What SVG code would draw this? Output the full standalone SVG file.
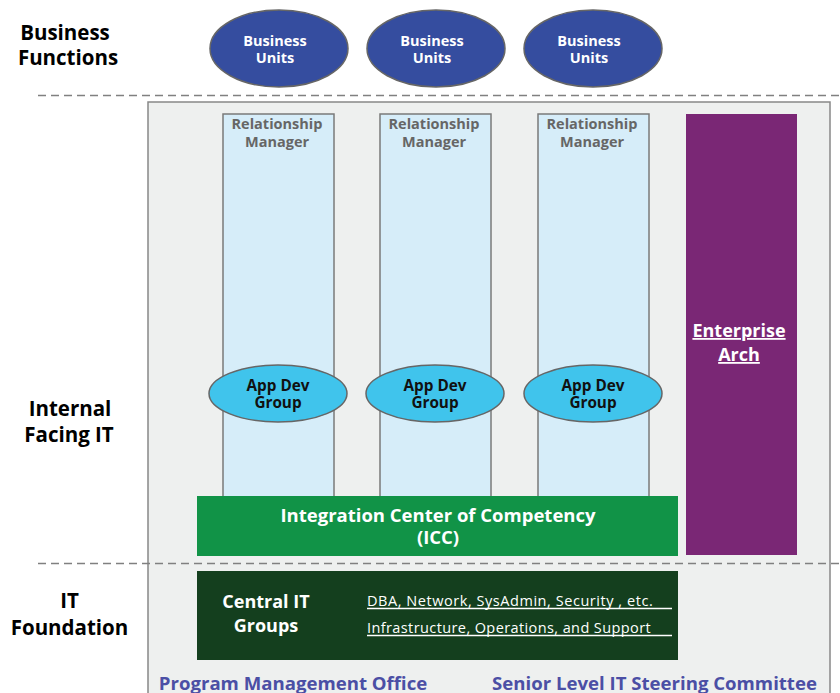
<svg xmlns="http://www.w3.org/2000/svg" width="840" height="693" viewBox="0 0 840 693">
<style>
text{font-family:"Open Sans","DejaVu Sans",sans-serif;font-weight:bold;text-anchor:middle}
.lbl{font-size:20.5px;fill:#000}
.bu{fill:#354d9f;stroke:#666;stroke-width:1.5}
.but{font-size:14.5px;fill:#fff}
.col{fill:#d6edf9;stroke:#7a7a7a;stroke-width:1.5}
.colt{font-size:14.5px;fill:#666}
.ad{fill:#40c4ec;stroke:#666;stroke-width:1.5}
.adt{font-size:15.3px;fill:#111}
.dash{stroke:#808080;stroke-width:1.5;stroke-dasharray:8 5;fill:none}
.wt{fill:#fff}
.bot{font-size:18.6px;fill:#4b4fa5}
.ul{stroke:#fff;stroke-width:1.5}
.sm{font-size:14.5px;font-weight:normal;text-anchor:start;fill:#fff}
</style>
<rect x="148" y="102" width="682" height="600" fill="#eef0ef" stroke="#888" stroke-width="1.5"/>
<g id="connectors">
<line class="dash" x1="38" y1="95.5" x2="840" y2="95.5"/>
<line class="dash" x1="38" y1="563.5" x2="840" y2="563.5"/>
</g>
<g id="label-business-functions"><text class="lbl" x="65" y="40">Business</text><text class="lbl" x="68" y="65">Functions</text></g>
<g id="label-internal-it"><text class="lbl" x="70" y="416">Internal</text><text class="lbl" x="69" y="442">Facing IT</text></g>
<g id="label-it-foundation"><text class="lbl" x="69.5" y="608">IT</text><text class="lbl" x="69.5" y="635">Foundation</text></g>
<g id="bu1"><ellipse class="bu" cx="279" cy="48.5" rx="69" ry="38.5"/><text class="but" x="275" y="46">Business</text><text class="but" x="275" y="63">Units</text></g>
<g id="bu2"><ellipse class="bu" cx="436" cy="48.5" rx="69" ry="38.5"/><text class="but" x="432" y="46">Business</text><text class="but" x="432" y="63">Units</text></g>
<g id="bu3"><ellipse class="bu" cx="593" cy="48.5" rx="69" ry="38.5"/><text class="but" x="589" y="46">Business</text><text class="but" x="589" y="63">Units</text></g>
<g id="rm1"><rect class="col" x="223" y="114" width="111" height="390"/><text class="colt" x="277" y="129">Relationship</text><text class="colt" x="277" y="147">Manager</text></g>
<g id="rm2"><rect class="col" x="380" y="114" width="111" height="390"/><text class="colt" x="434" y="129">Relationship</text><text class="colt" x="434" y="147">Manager</text></g>
<g id="rm3"><rect class="col" x="538" y="114" width="111" height="390"/><text class="colt" x="592" y="129">Relationship</text><text class="colt" x="592" y="147">Manager</text></g>
<g id="ad1"><ellipse class="ad" cx="278" cy="393.5" rx="69" ry="28.5"/><text class="adt" x="278" y="391">App Dev</text><text class="adt" x="278" y="408">Group</text></g>
<g id="ad2"><ellipse class="ad" cx="435" cy="393.5" rx="69" ry="28.5"/><text class="adt" x="435" y="391">App Dev</text><text class="adt" x="435" y="408">Group</text></g>
<g id="ad3"><ellipse class="ad" cx="593" cy="393.5" rx="69" ry="28.5"/><text class="adt" x="593" y="391">App Dev</text><text class="adt" x="593" y="408">Group</text></g>
<g id="ea"><rect x="686" y="114" width="111" height="441" fill="#7a2775"/><text class="wt" font-size="18" x="739" y="337" text-decoration="underline">Enterprise</text><text class="wt" font-size="18" x="739" y="361" text-decoration="underline">Arch</text></g>
<g id="icc"><rect x="197" y="496" width="481" height="60" fill="#119347"/><text class="wt" font-size="18.5" x="438" y="522">Integration Center of Competency</text><text class="wt" font-size="18.5" x="438" y="544">(ICC)</text></g>
<g id="central-it"><rect x="197" y="571" width="481" height="89" fill="#143f1e"/><text class="wt" font-size="18" x="266" y="608">Central IT</text><text class="wt" font-size="18" x="266" y="632">Groups</text>
<text class="sm" x="367" y="606" letter-spacing="0.55">DBA, Network, SysAdmin, Security , etc.</text>
<line class="ul" x1="367" y1="608.5" x2="672" y2="608.5"/>
<text class="sm" x="367" y="633" letter-spacing="0.4">Infrastructure, Operations, and Support</text>
<line class="ul" x1="367" y1="635.5" x2="672" y2="635.5"/></g>
<g id="pmo"><text class="bot" x="293" y="690">Program Management Office</text></g>
<g id="steering"><text class="bot" x="654.5" y="690">Senior Level IT Steering Committee</text></g>
</svg>
